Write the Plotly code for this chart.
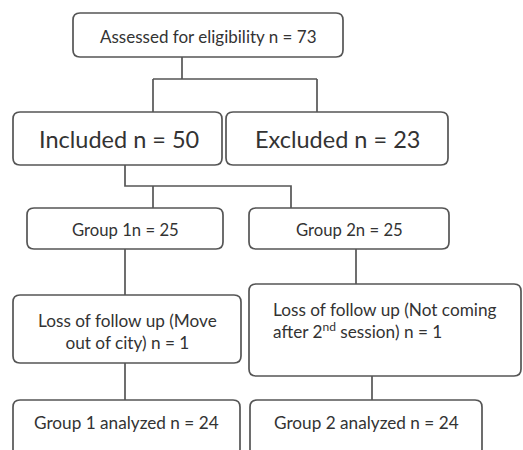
import plotly.graph_objects as go

# ---- content ----
labels = [
    "Assessed for eligibility n = 73",
    "Included n = 50",
    "Excluded n = 23",
    "Group 1n = 25",
    "Group 2n = 25",
    "Loss of follow up (Move<br>out of city) n = 1",
    "Loss of follow up (Not coming<br>after 2<sup>nd</sup> session) n = 1",
    "Group 1 analyzed n = 24",
    "Group 2 analyzed n = 24",
]

# ---- layout (pixel geometry of boxes: x0, x1, y0, y1) ----
boxes = [
    (73, 343, 13, 57),
    (13, 222, 112, 165),
    (226, 448, 112, 165),
    (27, 223, 208, 249),
    (249, 449, 208, 249),
    (13, 241, 295, 363),
    (249, 521, 284, 376),
    (13, 240, 400, 456),
    (250, 482, 400, 456),
]
text_pos = [
    (208, 36, "center", 17),
    (119, 139, "center", 23.5),
    (337, 139, "center", 23.5),
    (125, 230, "center", 16.7),
    (349, 230, "center", 16.7),
    (127, 331, "center", 17.2),
    (271, 320, "left", 17.2),
    (126, 422, "center", 17.2),
    (366, 422, "center", 17.2),
]
connectors = [
    [(182, 57), (182, 79)],
    [(153, 79), (317, 79)],
    [(153, 79), (153, 112)],
    [(317, 79), (317, 112)],
    [(125, 165), (125, 186), (291, 186), (291, 208)],
    [(153, 186), (153, 208)],
    [(125, 249), (125, 295)],
    [(356, 249), (356, 284)],
    [(125, 363), (125, 400)],
    [(372, 376), (372, 400)],
]

LINE = "#555555"
TXT = "#333333"
FONT = "Lato"
R = 7


def rrect(x0, x1, y0, y1, r=R):
    return (f"M {x0+r},{y0} L {x1-r},{y0} Q {x1},{y0} {x1},{y0+r} "
            f"L {x1},{y1-r} Q {x1},{y1} {x1-r},{y1} L {x0+r},{y1} "
            f"Q {x0},{y1} {x0},{y1-r} L {x0},{y0+r} Q {x0},{y0} {x0+r},{y0} Z")


fig = go.Figure()
fig.add_trace(go.Scatter(x=[0, 523], y=[0, 450], mode="markers",
                         marker=dict(opacity=0), hoverinfo="skip", showlegend=False))

shapes = []
for (x0, x1, y0, y1) in boxes:
    shapes.append(dict(type="path", path=rrect(x0, x1, y0, y1), xref="x", yref="y",
                       line=dict(color=LINE, width=1.7), fillcolor="white", layer="below"))
for pts in connectors:
    path = "M " + " L ".join(f"{x},{y}" for x, y in pts)
    shapes.append(dict(type="path", path=path, xref="x", yref="y",
                       line=dict(color=LINE, width=1.7), layer="below"))

annotations = []
for lab, (x, y, al, fs) in zip(labels, text_pos):
    annotations.append(dict(x=x, y=y, xref="x", yref="y", text=lab, showarrow=False,
                            xanchor=al, yanchor="middle", align=al,
                            font=dict(family=FONT, size=fs, color=TXT)))

fig.update_layout(
    width=523, height=450, margin=dict(l=0, r=0, t=0, b=0),
    paper_bgcolor="white", plot_bgcolor="white",
    xaxis=dict(range=[0, 523], visible=False, fixedrange=True),
    yaxis=dict(range=[450, 0], visible=False, fixedrange=True),
    shapes=shapes, annotations=annotations, showlegend=False,
)
fig.write_html("out.html", config={"displayModeBar": False},
               post_script="document.body.style.margin='0';document.body.style.overflow='hidden';")
